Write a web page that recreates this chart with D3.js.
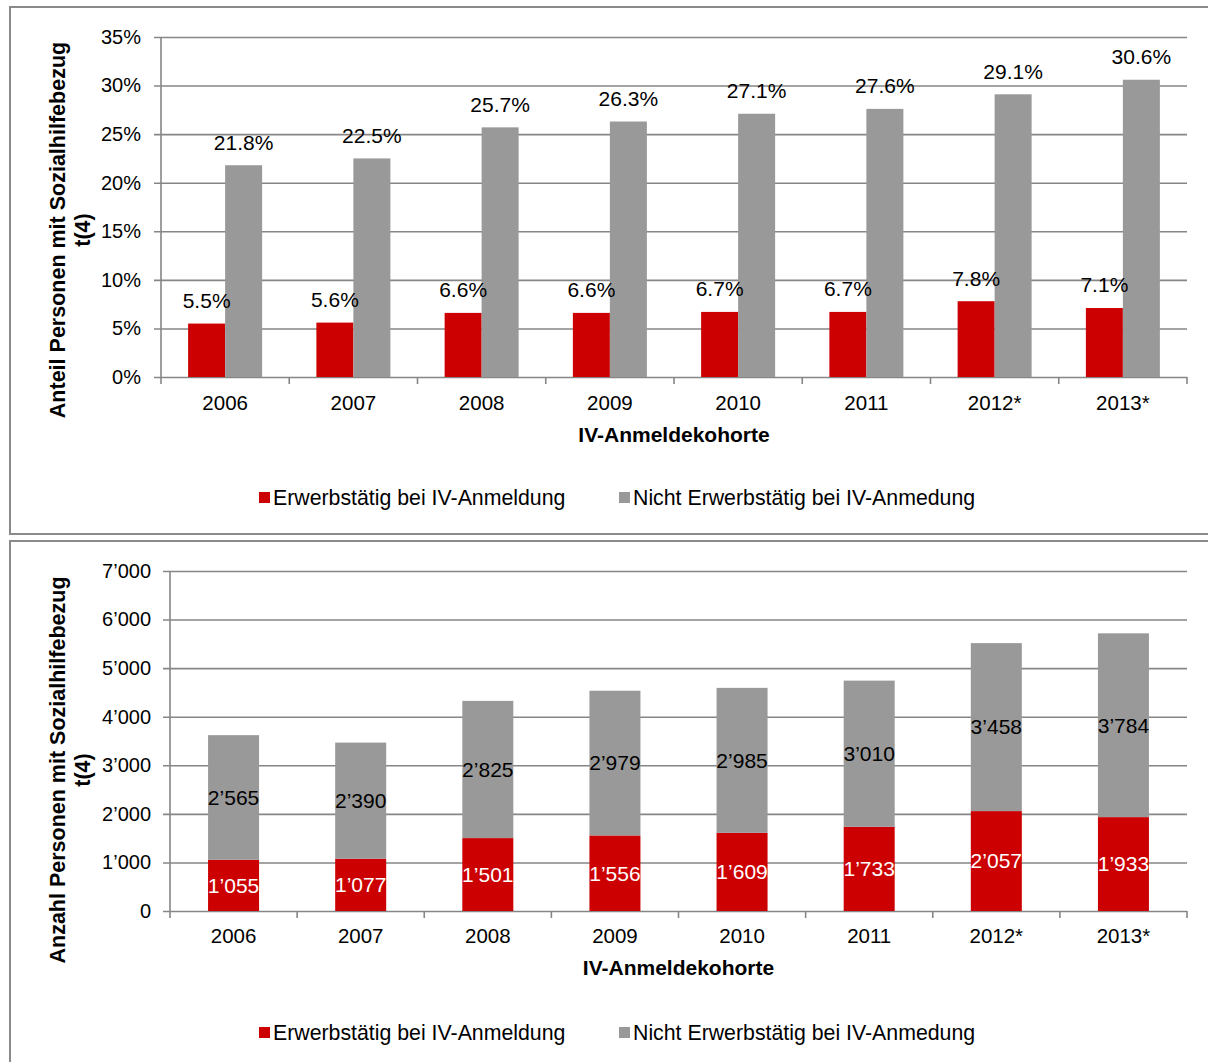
<!DOCTYPE html>
<html>
<head>
<meta charset="utf-8">
<script src="https://cdn.jsdelivr.net/npm/d3@7"></script>
<style>
  body { margin: 0; background: #fff; }
  svg text { font-family: "Liberation Sans", Arial, sans-serif; fill: #000; }
</style>
</head>
<body>
<svg id="chart" width="1208" height="1062"></svg>
<script>
// ---- data ----
const categories = ["2006", "2007", "2008", "2009", "2010", "2011", "2012*", "2013*"];
const seriesNames = ["Erwerbstätig bei IV-Anmeldung", "Nicht Erwerbstätig bei IV-Anmedung"];
const shareEmployed    = [5.5, 5.6, 6.6, 6.6, 6.7, 6.7, 7.8, 7.1];
const shareNotEmployed = [21.8, 22.5, 25.7, 26.3, 27.1, 27.6, 29.1, 30.6];
const countEmployed    = [1055, 1077, 1501, 1556, 1609, 1733, 2057, 1933];
const countNotEmployed = [2565, 2390, 2825, 2979, 2985, 3010, 3458, 3784];
const pctTicks   = [0, 5, 10, 15, 20, 25, 30, 35];
const countTicks = [0, 1000, 2000, 3000, 4000, 5000, 6000, 7000];
const xTitle = "IV-Anmeldekohorte";
const yTitleTop = ["Anteil Personen mit Sozialhilfebezug", "t(4)"];
const yTitleBottom = ["Anzahl Personen mit Sozialhilfebezug", "t(4)"];

const RED = "#CC0000", GRAY = "#999999", GRID = "#868686", BORDER = "#8a8a8a";
const svg = d3.select("#chart");
const fmtCount = v => d3.format(",")(v).replace(/,/g, "’");
const fmtPct = v => d3.format(".1f")(v) + "%";

// panel borders
svg.append("rect").attr("x", 10).attr("y", 7).attr("width", 1220).attr("height", 527)
  .attr("fill", "none").attr("stroke", BORDER).attr("stroke-width", 2);
svg.append("rect").attr("x", 10).attr("y", 541).attr("width", 1220).attr("height", 540)
  .attr("fill", "none").attr("stroke", BORDER).attr("stroke-width", 2);

function drawFrame(g, x, y, ticks, tickFmt, labelPad, ytitle, titleCenterY, yTitleX, xLabelY, xTitleY, legendY) {
  const [x0, x1] = x.range();
  const [yb, yt] = y.range();
  // gridlines + y labels
  const ya = d3.axisLeft(y).tickValues(ticks).tickFormat(tickFmt).tickSizeOuter(0).tickSizeInner(0).tickPadding(labelPad);
  const ag = g.append("g").attr("transform", `translate(${x0},0)`).call(ya);
  ag.select(".domain").remove();
  ag.selectAll(".tick text").style("font-size", "20px").attr("fill", "#000");
  ag.selectAll(".tick").append("line").attr("x1", -7).attr("x2", x1 - x0)
    .attr("stroke", GRID).attr("stroke-width", 1.6);
  // vertical axis line
  g.append("line").attr("x1", x0).attr("x2", x0).attr("y1", yt).attr("y2", yb)
    .attr("stroke", GRID).attr("stroke-width", 1.6);
  // category boundary ticks
  const step = x.step();
  g.selectAll(null).data(d3.range(categories.length + 1)).join("line")
    .attr("x1", i => x0 + i * step).attr("x2", i => x0 + i * step)
    .attr("y1", yb).attr("y2", yb + 7).attr("stroke", GRID).attr("stroke-width", 1.6);
  // x labels
  const xa = d3.axisBottom(x).tickSize(0).tickPadding(0);
  const xg = g.append("g").attr("transform", `translate(0,${xLabelY})`).call(xa);
  xg.select(".domain").remove();
  xg.selectAll(".tick text").style("font-size", "20.5px").attr("dy", "0.35em").attr("y", 0);
  // x title
  g.append("text").attr("x", (x0 + x1) / 2).attr("y", xTitleY).attr("dy", "0.35em")
    .attr("text-anchor", "middle").style("font-size", "21px").style("font-weight", "bold").text(xTitle);
  // y title
  ytitle.forEach((t, i) => {
    g.append("text").attr("transform", `translate(${yTitleX + i * 25},${titleCenterY}) rotate(-90)`)
      .attr("dy", "0.35em").attr("text-anchor", "middle")
      .style("font-size", "21.5px").style("font-weight", "bold").text(t);
  });
  // legend
  const leg = [{x: 259, c: RED, t: seriesNames[0]}, {x: 619, c: GRAY, t: seriesNames[1]}];
  leg.forEach(l => {
    g.append("rect").attr("x", l.x).attr("y", legendY - 6).attr("width", 11).attr("height", 11).attr("fill", l.c);
    g.append("text").attr("x", l.x + 14).attr("y", legendY).attr("dy", "0.35em")
      .style("font-size", "21.3px").text(l.t);
  });
}

// ---- top chart ----
{
  const g = svg.append("g");
  const x = d3.scaleBand().domain(categories).range([161, 1187]).padding(0);
  const y = d3.scaleLinear().domain([0, 35]).range([377, 37]);
  drawFrame(g, x, y, pctTicks, d => d + "%", 20, yTitleTop, 230, 57, 403, 435, 498);
  const bw = 37;
  const rows = categories.map((c, i) => ({c, a: shareEmployed[i], b: shareNotEmployed[i]}));
  const cx = d => x(d.c) + x.bandwidth() / 2;
  g.selectAll(".ra").data(rows).join("rect")
    .attr("x", d => cx(d) - bw).attr("width", bw)
    .attr("y", d => y(d.a)).attr("height", d => y(0) - y(d.a)).attr("fill", RED);
  g.selectAll(".rb").data(rows).join("rect")
    .attr("x", d => cx(d)).attr("width", bw)
    .attr("y", d => y(d.b)).attr("height", d => y(0) - y(d.b)).attr("fill", GRAY);
  g.selectAll(".la").data(rows).join("text")
    .attr("x", d => cx(d) - bw / 2).attr("y", d => y(d.a) - 23).attr("dy", "0.35em")
    .attr("text-anchor", "middle").style("font-size", "21px").text(d => fmtPct(d.a));
  g.selectAll(".lb").data(rows).join("text")
    .attr("x", d => cx(d) + bw / 2).attr("y", d => y(d.b) - 23).attr("dy", "0.35em")
    .attr("text-anchor", "middle").style("font-size", "21px").text(d => fmtPct(d.b));
}

// ---- bottom chart ----
{
  const g = svg.append("g");
  const x = d3.scaleBand().domain(categories).range([170, 1187]).padding(0);
  const y = d3.scaleLinear().domain([0, 7000]).range([911, 571]);
  drawFrame(g, x, y, countTicks, fmtCount, 19, yTitleBottom, 770, 57, 936, 968, 1033);
  const bw = 51;
  const rows = categories.map((c, i) => ({c, a: countEmployed[i], b: countNotEmployed[i]}));
  const cx = d => x(d.c) + x.bandwidth() / 2;
  g.selectAll(".ra").data(rows).join("rect")
    .attr("x", d => cx(d) - bw / 2).attr("width", bw)
    .attr("y", d => y(d.a)).attr("height", d => y(0) - y(d.a)).attr("fill", RED);
  g.selectAll(".rb").data(rows).join("rect")
    .attr("x", d => cx(d) - bw / 2).attr("width", bw)
    .attr("y", d => y(d.a + d.b)).attr("height", d => y(d.a) - y(d.a + d.b)).attr("fill", GRAY);
  g.selectAll(".la").data(rows).join("text")
    .attr("x", cx).attr("y", d => (y(0) + y(d.a)) / 2).attr("dy", "0.35em")
    .attr("text-anchor", "middle").style("font-size", "21px").style("fill", "#fff").text(d => fmtCount(d.a));
  g.selectAll(".lb").data(rows).join("text")
    .attr("x", cx).attr("y", d => (y(d.a) + y(d.a + d.b)) / 2).attr("dy", "0.35em")
    .attr("text-anchor", "middle").style("font-size", "21px").text(d => fmtCount(d.b));
}
</script>
</body>
</html>
